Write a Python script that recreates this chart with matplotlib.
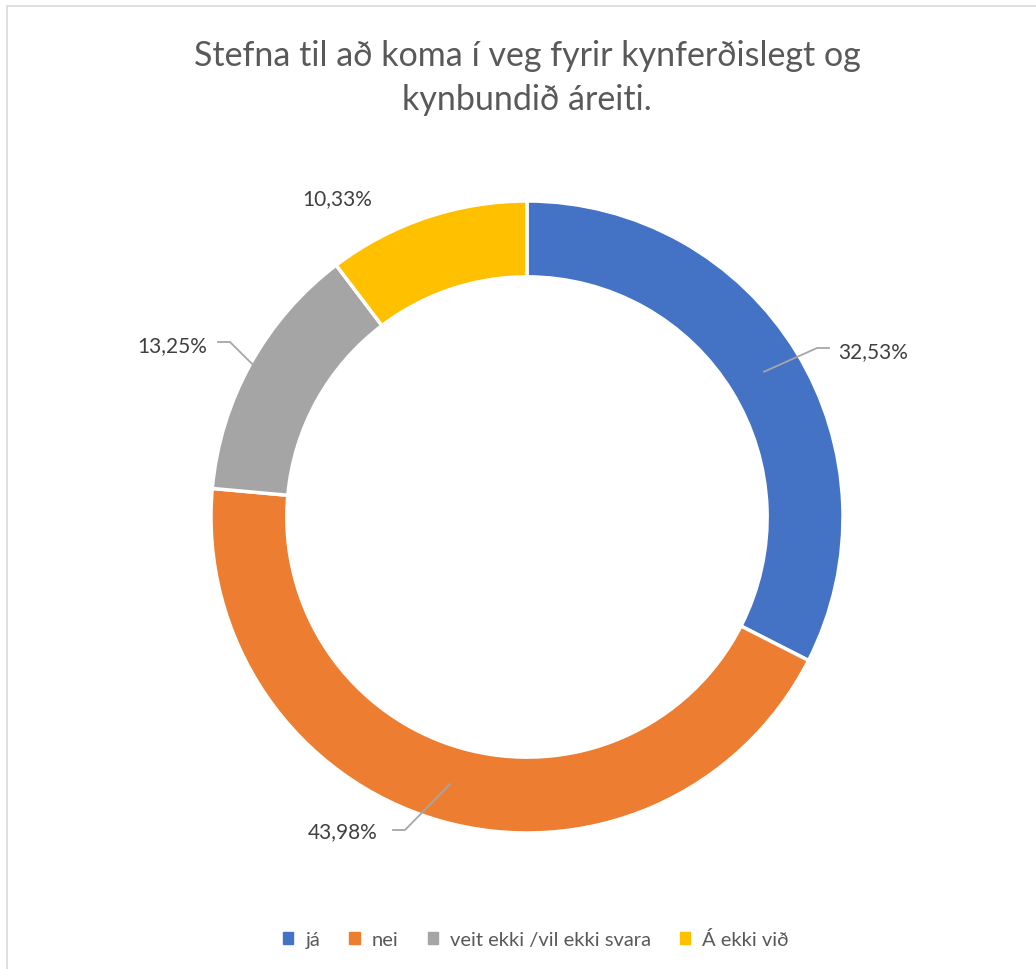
import numpy as np
import matplotlib.pyplot as plt
from matplotlib.patches import Rectangle

# data
categories = ['já', 'nei', 'veit ekki /vil ekki svara', 'Á ekki við']
values = [32.53, 43.98, 13.25, 10.33]
labels = ['32,53%', '43,98%', '13,25%', '10,33%']
colors = ['#4472C4', '#ED7D31', '#A5A5A5', '#FFC000']
title = 'Stefna til að koma í veg fyrir kynferðislegt og\nkynbundið áreiti.'

W, H = 1036, 970
cx, cy, R = 527, 518, 316  # donut centre and radius in pixels

plt.rcParams['font.family'] = ['Lato', 'DejaVu Sans']

fig = plt.figure(figsize=(W / 100, H / 100), dpi=100)
ax = fig.add_axes([0, 0, 1, 1])


def px(x, y):
    # pixel position -> data coords
    return (x - cx) / R, (cy - y) / R


wedges, _ = ax.pie(values, colors=colors, startangle=90, counterclock=False,
                   radius=1, wedgeprops=dict(width=0.24, edgecolor='white', linewidth=2.5))
# pie resets the limits, so set them afterwards
ax.set_xlim(-cx / R, (W - cx) / R)
ax.set_ylim(-(H - cy) / R, cy / R)
ax.set_aspect('equal')
ax.axis('off')

# data labels (text position, elbow, leader end on ring)
label_pos = [(873, 352), (343, 832), (172, 346), (337, 199)]
elbows = [((829, 349), (817, 349), 0.88), ((393, 831), (405, 831), 0.88),
          ((218, 343), (230, 343), 0.99), None]
for w, lab, pos, el in zip(wedges, labels, label_pos, elbows):
    ang = np.deg2rad((w.theta1 + w.theta2) / 2)
    if el is not None:
        (x0, y0), (x1, y1), r = el
        pts = [px(x0, y0), px(x1, y1), (r * np.cos(ang), r * np.sin(ang))]
        ax.plot([p[0] for p in pts], [p[1] for p in pts], color='#A6A6A6', lw=1.3)
    ax.text(*px(*pos), lab, ha='center', va='center', fontsize=15, color='#404040')

fig.text(cx / W, 1 - 78 / H, title, ha='center', va='center', fontsize=24.5,
         color='#595959', linespacing=1.45)

# chart border
fig.patches.append(Rectangle((7 / W, -0.1), 1.2, 1 - 7 / H + 0.1, transform=fig.transFigure,
                             fill=False, edgecolor='#D9D9D9', lw=1.2))

handles = [Rectangle((0, 0), 1, 1, color=c) for c in colors]
fig.legend(handles, categories, loc='center', bbox_to_anchor=(536 / W, 1 - 940 / H),
           ncol=4, frameon=False, fontsize=14.5, handlelength=0.5, handleheight=0.5,
           handletextpad=0.6, columnspacing=1.45, labelcolor='#595959')

fig.savefig('out.png', dpi=100)
